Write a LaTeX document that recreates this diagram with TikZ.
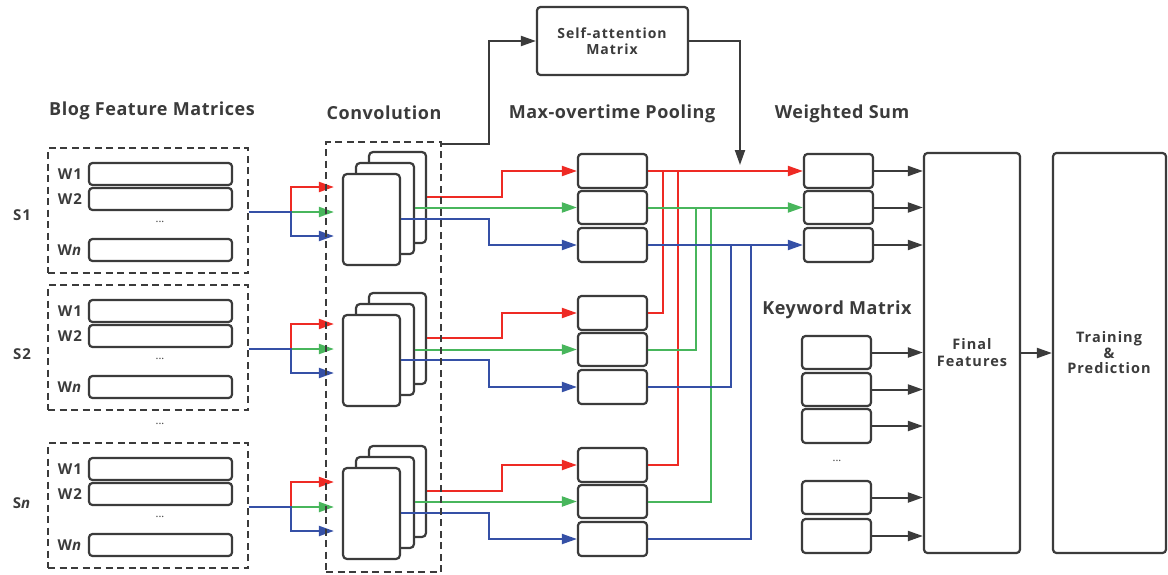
\documentclass[tikz,border=0pt]{standalone}
\usepackage{fontspec}
\setmainfont{Open Sans}
\newfontfamily\tfont[LetterSpace=3]{Open Sans}
\newfontfamily\lfont[LetterSpace=7]{Open Sans}
\usetikzlibrary{arrows.meta}
\definecolor{cred}{HTML}{EE2A24}
\definecolor{cgreen}{HTML}{48B65C}
\definecolor{cblue}{HTML}{3550A6}
\definecolor{cdark}{HTML}{3B3B3B}
\newcommand{\mybox}[6][]{\node[box,#1,minimum width={((#5)-(#3))*1pt},minimum height={((#6)-(#4))*1pt}] (#2) at ({((#3)+(#5))/2},{((#4)+(#6))/2}) {};}
\begin{document}
\begin{tikzpicture}[x=1pt,y=-1pt,
 box/.style={draw=cdark,line width=2.2pt,rounded corners=3.5pt,inner sep=0pt,fill=white},
 dbox/.style={draw=cdark,line width=1.8pt,dash pattern=on 7pt off 4.5pt,inner sep=0pt},
 ttl/.style={font=\tfont\bfseries\fontsize{18}{21}\selectfont,text=cdark},
 lab/.style={font=\lfont\bfseries\fontsize{15}{17}\selectfont,text=cdark},
 inl/.style={font=\lfont\bfseries\fontsize{14.5}{17}\selectfont,text=cdark,align=center},
 dts/.style={font=\fontsize{11}{12}\selectfont,text=cdark},
 tip/.style={-{Triangle[length=15pt,width=10pt]}},
 ln/.style={line width=2pt},
 rl/.style={ln,draw=cred}, gl/.style={ln,draw=cgreen}, bl/.style={ln,draw=cblue}, kl/.style={ln,draw=cdark}]
\useasboundingbox (0,0) rectangle (1168,574);

% titles
\node[ttl] (t1) at (152,111) {Blog Feature Matrices};
\node[ttl] (t2) at (384,113) {Convolution};
\node[ttl] (t3) at (612,114) {Max-overtime Pooling};
\node[ttl] (t4) at (842,114) {Weighted Sum};
\node[ttl] (t5) at (837,310) {Keyword Matrix};

\node[dts] (mdots) at (160,424) {...};

\foreach \i/\T/\C/\P/\Ly/\lab in {1/148/152/154/215/{S1}, 2/285/293/296/354/{S2}, n/443/446/448/503/{S\textit{n}}} {
 \mybox[dbox,sharp corners,fill=none]{blk\i}{48}{\T}{248}{\T+125}
 \mybox{wa\i}{89}{\T+15}{232}{\T+37}
 \mybox{wb\i}{89}{\T+40}{232}{\T+62}
 \mybox{wc\i}{89}{\T+91}{232}{\T+113}
 \node[dts] (dd\i) at (160,{\T+74}) {...};
 \node[lab] (la\i) at (70,{\T+26}) {W1};
 \node[lab] (lb\i) at (70,{\T+51}) {W2};
 \node[lab] (lc\i) at (70,{\T+102}) {W\textit{n}};
 \node[lab] (s\i) at (22,\Ly) {\lab};
 % convolution stack
 \mybox[rounded corners=4pt]{back\i}{369}{\C}{426}{\C+91}
 \mybox[rounded corners=4pt]{mid\i}{356}{\C+11}{414}{\C+102}
 \mybox[rounded corners=4pt]{front\i}{343}{\C+22}{400}{\C+113}
 % pooling
 \mybox{pa\i}{578}{\P}{647}{\P+34}
 \mybox{pb\i}{578}{\P+37}{647}{\P+70}
 \mybox{pc\i}{578}{\P+74}{647}{\P+108}
 % split into the convolution
 \coordinate (sp\i) at (291,{\T+64});
 \coordinate (sr\i) at (291,{\T+39});
 \coordinate (sb\i) at (291,{\T+88});
 \draw[rl,tip,shorten >=8pt] (blk\i.east |- sp\i) -- (sp\i) -- (sr\i) -- (front\i.west |- sr\i);
 \draw[gl,tip,shorten >=8pt] (blk\i.east |- sp\i) -- (front\i.west |- sp\i);
 \draw[bl,tip,shorten >=8pt] (blk\i.east |- sp\i) -- (sp\i) -- (sb\i) -- (front\i.west |- sb\i);
 % convolution to pooling
 \coordinate (cr\i) at (502,{\C+45});
 \coordinate (cb\i) at (489,{\C+67});
 \draw[rl,tip] (back\i.east |- cr\i) -- (cr\i) |- (pa\i.west);
 \draw[gl,tip] (mid\i.east |- pb\i.west) -- (pb\i.west);
 \draw[bl,tip] (front\i.east |- cb\i) -- (cb\i) |- (pc\i.west);
}

% weighted sum
\mybox{wsa}{804}{154}{873}{188}
\mybox{wsb}{804}{191}{873}{224}
\mybox{wsc}{804}{228}{873}{262}

% pooling routing
\coordinate (x1) at (663,0);
\coordinate (x2) at (678,0);
\coordinate (x3) at (696,0);
\coordinate (x4) at (711,0);
\coordinate (x5) at (731,0);
\coordinate (x6) at (751,0);
\draw[rl] (pa2.east) -| (x1 |- wsa.west);
\draw[rl] (pan.east) -| (x2 |- wsa.west);
\draw[gl] (pb2.east) -| (x3 |- wsb.west);
\draw[gl] (pbn.east) -| (x4 |- wsb.west);
\draw[bl] (pc2.east) -| (x5 |- wsc.west);
\draw[bl] (pcn.east) -| (x6 |- wsc.west);
\draw[rl,tip] (pa1.east) -- (wsa.west);
\draw[gl,tip] (pb1.east) -- (wsb.west);
\draw[bl,tip] (pc1.east) -- (wsc.west);

% keyword matrix
\mybox{ka}{802}{336}{871}{369}
\mybox{kb}{802}{373}{871}{406}
\mybox{kc}{802}{409}{871}{443}
\node[dts] (kdots) at (837,461) {...};
\mybox{kd}{802}{481}{871}{514}
\mybox{ke}{802}{519}{871}{553}

% final features and training
\mybox{ff}{924}{153}{1020}{553}
\node[inl] (fft) at (972,353) {Final\\Features};
\mybox{tp}{1053}{153}{1166}{553}
\node[inl,font=\lfont\bfseries\fontsize{14.5}{15.5}\selectfont] (tpt) at (1109,353) {Training\\\&\\Prediction};

\foreach \b in {wsa,wsb,wsc,ka,kb,kc,kd,ke} {
 \draw[kl,tip] (\b.east) -- (ff.west |- \b.east);
}
\draw[kl,tip] (ff.east) -- (tp.west);

% self-attention
\mybox{sa}{537}{7}{688}{75}
\node[inl,font=\lfont\bfseries\fontsize{14}{16}\selectfont] (sat) at (612,41) {Self-attention\\Matrix};

% convolution frame
\mybox[dbox,sharp corners,fill=none]{conv}{326}{142}{441}{572}
\coordinate (wsin) at (740,165);
\draw[kl,tip] ([yshift=-3pt]conv.north east) -- ++(47,0) |- (sa.west);
\draw[kl,tip] (sa.east) -| (wsin);
\end{tikzpicture}
\end{document}
